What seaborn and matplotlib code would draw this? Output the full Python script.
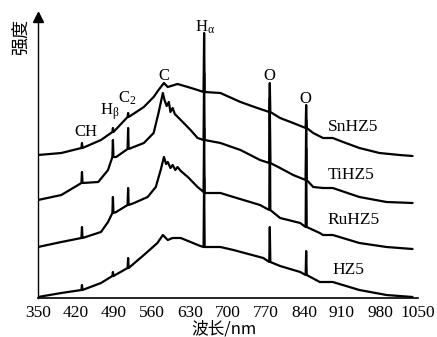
import numpy as np
import pandas as pd
import matplotlib
matplotlib.use('Agg')
import matplotlib.pyplot as plt
import seaborn as sns

# emission spectra of the four catalysts (a.u., offset stack)
sn_wl = [350, 393, 430, 431, 432, 466, 487, 488, 489, 515, 516, 517, 545, 563, 572, 582, 589, 607, 626, 644,
         655, 656, 657, 686, 723, 754, 776, 777, 778, 796, 820, 843, 844, 845, 857, 875, 893, 912, 942, 979, 1016, 1040]
sn_int = [143, 145, 150, 155, 150, 158, 166, 170, 166, 181, 185, 181, 191, 201, 208, 215, 211, 214, 211, 208,
          206, 265, 206, 205, 196, 190, 186, 215, 186, 180, 175, 170, 193, 170, 165, 160, 160, 156, 150, 145, 143, 142]

ti_wl = [350, 393, 430, 431, 432, 461, 479, 487, 488, 489, 494, 515, 516, 517, 545, 563, 572, 580, 583, 587, 591, 594,
         598, 602, 613, 631, 644, 655, 656, 657, 686, 723, 759, 776, 777, 778, 796, 820, 843, 844, 845, 857, 875, 893,
         942, 992, 1040]
ti_int = [98, 103, 115, 126, 115, 116, 128, 141, 158, 141, 141, 149, 170, 149, 155, 165, 185, 205, 198, 192, 196, 186,
          190, 184, 178, 168, 160, 158, 225, 158, 155, 148, 138, 135, 200, 135, 130, 123, 118, 178, 118, 111, 110, 110,
          101, 96, 95]

ru_wl = [350, 393, 430, 431, 432, 466, 479, 487, 488, 489, 494, 515, 516, 517, 527, 552, 567, 576, 582, 586, 589, 594,
         598, 603, 607, 613, 626, 644, 655, 656, 657, 686, 710, 759, 776, 777, 778, 796, 833, 843, 844, 845, 869, 875,
         893, 942, 992, 1040]
ru_int = [51, 56, 60, 71, 60, 66, 76, 85, 101, 85, 86, 93, 110, 93, 95, 101, 111, 128, 141, 134, 136, 130,
          133, 128, 131, 127, 121, 111, 106, 170, 105, 105, 101, 93, 88, 190, 88, 80, 75, 71, 150, 71, 65, 63,
          63, 55, 51, 49]

hz_wl = [350, 393, 430, 431, 432, 466, 484, 487, 488, 489, 515, 516, 517, 545, 570, 580, 589, 598, 613, 631, 649,
         655, 656, 657, 686, 710, 765, 776, 777, 778, 796, 833, 843, 844, 845, 869, 875, 893, 942, 992, 1040]
hz_int = [1, 5, 8, 13, 8, 15, 21, 22, 26, 22, 30, 40, 30, 43, 55, 63, 58, 60, 60, 56, 52,
          51, 120, 51, 51, 48, 40, 36, 71, 36, 32, 26, 23, 47, 23, 16, 16, 16, 8, 3, 1]

samples = ['SnHZ5', 'TiHZ5', 'RuHZ5', 'HZ5']
x_ticks = [350, 420, 490, 560, 630, 700, 770, 840, 910, 980, 1050]

# line labels: text, wavelength, intensity
line_labels = ['CH', 'H$_{\\mathrm{\\beta}}$', 'C$_2$', 'C', 'H$_{\\mathrm{\\alpha}}$', 'O', 'O']
line_wl = [439, 464, 497, 582, 640, 776, 842]
line_int = [162, 183, 195, 218, 266, 218, 195]

sns.set_style('white')
plt.rcParams['font.family'] = ['Liberation Serif', 'Noto Sans CJK SC']
plt.rcParams['mathtext.fontset'] = 'custom'
plt.rcParams['mathtext.rm'] = 'Liberation Serif'
plt.rcParams['mathtext.it'] = 'Liberation Serif:italic'
plt.rcParams['text.color'] = 'black'
plt.rcParams['axes.labelcolor'] = 'black'
plt.rcParams['xtick.color'] = 'black'

df = pd.concat([
    pd.DataFrame({'wl': w, 'inten': i, 'sample': s})
    for s, w, i in zip(samples, [sn_wl, ti_wl, ru_wl, hz_wl], [sn_int, ti_int, ru_int, hz_int])
])

fig = plt.figure(figsize=(4.37, 3.37), dpi=100)
ax = fig.add_axes([38 / 437, 39 / 337, 380 / 437, 285 / 337])

sns.lineplot(data=df, x='wl', y='inten', hue='sample', palette=['black'] * 4,
             estimator=None, sort=False, legend=False, lw=1.6, ax=ax)

ax.set_xlim(350, 1050)
ax.set_ylim(0, 285)
ax.set_xticks(x_ticks)
ax.set_yticks([])
ax.set_ylabel('')
ax.tick_params(axis='x', direction='in', length=4, width=1, labelsize=12.5, pad=5, colors='black')
for s in ['top', 'right']:
    ax.spines[s].set_visible(False)
ax.spines['left'].set_linewidth(1.0)
ax.spines['bottom'].set_linewidth(1.2)
ax.spines['left'].set_color('black')
ax.spines['bottom'].set_color('black')

# arrow head on the y axis
ax.plot(0, 0.986, marker='^', color='black', ms=7, transform=ax.transAxes, clip_on=False)

# curve names
name_pos = [(884, 171), (884, 123), (884, 78), (893, 28)]
for name, (x, y) in zip(samples, name_pos):
    ax.text(x, y, name, fontsize=12.5, ha='left', va='center', color='black')

# emission line labels
for lab, x, y in zip(line_labels, line_wl, line_int):
    ha = 'left' if lab.startswith('H') or lab.startswith('C$') else 'center'
    ax.text(x, y, lab, fontsize=12, ha=ha, va='baseline', color='black')

ax.set_xlabel('波长/nm', fontsize=12, family=['Noto Sans CJK SC'], color='black')
ax.xaxis.set_label_coords(0.49, -0.078)
ax.text(-0.045, 0.915, '强度', rotation=90, transform=ax.transAxes, ha='center', va='center',
        fontsize=13, family=['Noto Sans CJK SC'], color='black')

plt.savefig('out.png', dpi=100)
plt.close()
